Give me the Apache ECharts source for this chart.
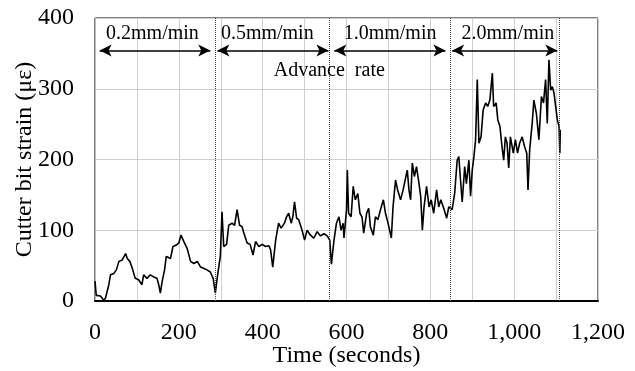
<!DOCTYPE html>
<html>
<head>
<meta charset="utf-8">
<script src="https://cdn.jsdelivr.net/npm/echarts@6/dist/echarts.min.js"></script>
<style>
  html, body { margin: 0; padding: 0; background: #fff; }
  #chart { width: 635px; height: 371px; }
</style>
</head>
<body>
<div id="chart"></div>
<script>
// 读图得到的时间 (s) 与应变 (με)
const timeSec = [
  0, 3, 13, 21, 25, 33, 37, 45, 51, 57, 65, 73, 77, 83, 88, 96, 104, 112, 116, 124,
  132, 140, 148, 152, 156, 160, 166, 170, 180, 186, 194, 200, 205, 212, 220, 228, 236, 244, 252, 260,
  267, 275, 282, 287, 293, 299, 303, 307, 314, 319, 327, 333, 339, 345, 351, 355, 363, 370, 377, 383,
  391, 399, 407, 415, 419, 424, 431, 438, 444, 452, 457, 462, 468, 472, 476, 481, 486, 494, 500, 506,
  514, 522, 530, 538, 546, 554, 560, 564, 570, 576, 582, 587, 592, 594, 600, 602, 605, 611, 616, 621,
  627, 632, 637, 641, 648, 653, 657, 664, 669, 675, 681, 688, 693, 697, 703, 707, 711, 717, 722, 729,
  735, 741, 745, 749, 753, 757, 762, 767, 773, 777, 781, 785, 791, 797, 802, 808, 815, 820, 825, 832,
  839, 844, 852, 858, 864, 868, 872, 876, 882, 886, 892, 896, 900, 904, 908, 912, 916, 921, 926, 932,
  937, 942, 948, 951, 957, 961, 966, 971, 975, 979, 983, 987, 991, 998, 1003, 1008, 1013, 1019, 1025, 1030,
  1033, 1037, 1043, 1047, 1053, 1059, 1065, 1070, 1075, 1079, 1083, 1087, 1091, 1095, 1099, 1103, 1107, 1109, 1110
]
const strain = [
  28, 8, 7, 1, 4, 23, 37, 39, 44, 56, 58, 67, 60, 56, 48, 32, 30, 23, 37, 32,
  37, 34, 32, 23, 11, 27, 44, 63, 60, 77, 79, 82, 93, 84, 74, 56, 53, 56, 48, 46,
  44, 41, 32, 11, 39, 63, 126, 77, 80, 107, 110, 107, 129, 107, 105, 96, 82, 80, 65, 84,
  77, 80, 77, 78, 72, 48, 86, 110, 103, 110, 119, 124, 110, 119, 140, 117, 115, 100, 86, 100,
  93, 89, 98, 92, 95, 92, 86, 52, 85, 110, 119, 100, 110, 89, 129, 185, 124, 119, 162, 143,
  152, 124, 119, 96, 124, 131, 105, 93, 119, 115, 129, 143, 124, 115, 100, 89, 133, 171, 157, 143,
  157, 174, 185, 157, 143, 195, 176, 190, 166, 148, 100, 133, 162, 133, 143, 124, 157, 133, 143, 131,
  117, 133, 129, 152, 199, 204, 171, 140, 190, 166, 199, 148, 185, 204, 228, 313, 223, 232, 270, 280,
  275, 284, 322, 275, 280, 256, 247, 218, 199, 232, 223, 188, 232, 209, 228, 209, 223, 232, 218, 209,
  157, 214, 251, 284, 265, 228, 289, 280, 313, 251, 341, 298, 303, 294, 275, 256, 247, 209, 242
]

// 进给速度分段
const phaseBounds = [286, 560, 848, 1107]
const phaseNames = ['0.2mm/min', '0.5mm/min', '1.0mm/min', '2.0mm/min']
const phaseArrowFrom = [11, 292, 571, 852]
const phaseArrowTo = [275, 557, 836, 1103]
const phaseNameX = [137, 411, 704, 985]
const arrowLevel = 354
const nameLevel = 378
const advanceLabel = 'Advance  rate'
const advanceLabelPos = [559, 325]

const xTicks = [0, 200, 400, 600, 800, 1000, 1200]
const yMin = 0
const yMax = 400

const fontFamily = '"Liberation Serif", "Times New Roman", serif'

const seriesData = timeSec.map((t, i) => [t, strain[i]])

// 分段虚线 (两端点形式, 才能单独去掉箭头)
const markLines = phaseBounds.map(x => ([
  { coord: [x, yMin], symbol: 'none', lineStyle: { type: 'dotted', color: '#444', width: 1 } },
  { coord: [x, yMax], symbol: 'none' },
]))
// 双向箭头
phaseArrowFrom.forEach((x, i) => {
  markLines.push([
    { coord: [x, arrowLevel], symbol: 'arrow', symbolSize: [9, 12] },
    { coord: [phaseArrowTo[i], arrowLevel], symbol: 'arrow', symbolSize: [9, 12] },
  ])
})

const markPoints = phaseNames.map((n, i) => ({
  name: n,
  coord: [phaseNameX[i], nameLevel],
}))
markPoints.push({ name: advanceLabel, coord: advanceLabelPos })

const chart = echarts.init(document.getElementById('chart'))
chart.setOption({
  animation: false,
  backgroundColor: '#fff',
  grid: {
    left: 95,
    right: 37,
    top: 18,
    bottom: 70,
    outerBoundsMode: 'none',
    show: true,
    borderColor: '#000',
    borderWidth: 1,
  },
  xAxis: {
    type: 'value',
    min: 0,
    max: 1200,
    interval: 100,
    name: 'Time (seconds)',
    nameLocation: 'middle',
    nameGap: 43,
    nameMoveOverlap: false,
    nameTextStyle: { fontFamily, fontSize: 24, color: '#000' },
    axisLine: { show: true, lineStyle: { color: '#000', width: 2 } },
    axisTick: { show: false },
    axisLabel: {
      fontFamily,
      fontSize: 24,
      color: '#000',
      margin: 20,
      formatter: v => (xTicks.includes(v) ? v.toLocaleString('en-US') : ''),
    },
    splitLine: { show: true, lineStyle: { color: '#cfcfcf', width: 1 } },
  },
  yAxis: {
    type: 'value',
    min: yMin,
    max: yMax,
    interval: 100,
    name: 'Cutter bit strain (με)',
    nameLocation: 'middle',
    nameGap: 58,
    nameMoveOverlap: false,
    nameTextStyle: { fontFamily, fontSize: 24, color: '#000' },
    axisLine: { show: true, lineStyle: { color: '#bbb', width: 1 } },
    axisTick: { show: false },
    axisLabel: { fontFamily, fontSize: 24, color: '#000', margin: 21 },
    splitLine: { show: true, lineStyle: { color: '#cfcfcf', width: 1 } },
  },
  series: [
    {
      type: 'line',
      data: seriesData,
      showSymbol: false,
      lineStyle: { color: '#000', width: 1.6 },
      itemStyle: { color: '#000' },
      emphasis: { disabled: true },
      markLine: {
        silent: true,
        animation: false,
        symbol: 'none',
        label: { show: false },
        lineStyle: { color: '#000', width: 1.5, type: 'solid' },
        data: markLines,
      },
      markPoint: {
        silent: true,
        animation: false,
        symbol: 'rect',
        symbolSize: 1,
        itemStyle: { color: 'rgba(0,0,0,0)' },
        label: {
          show: true,
          position: 'inside',
          formatter: '{b}',
          fontFamily,
          fontSize: 20,
          color: '#000',
        },
        data: markPoints,
      },
    },
  ],
})
</script>
</body>
</html>
